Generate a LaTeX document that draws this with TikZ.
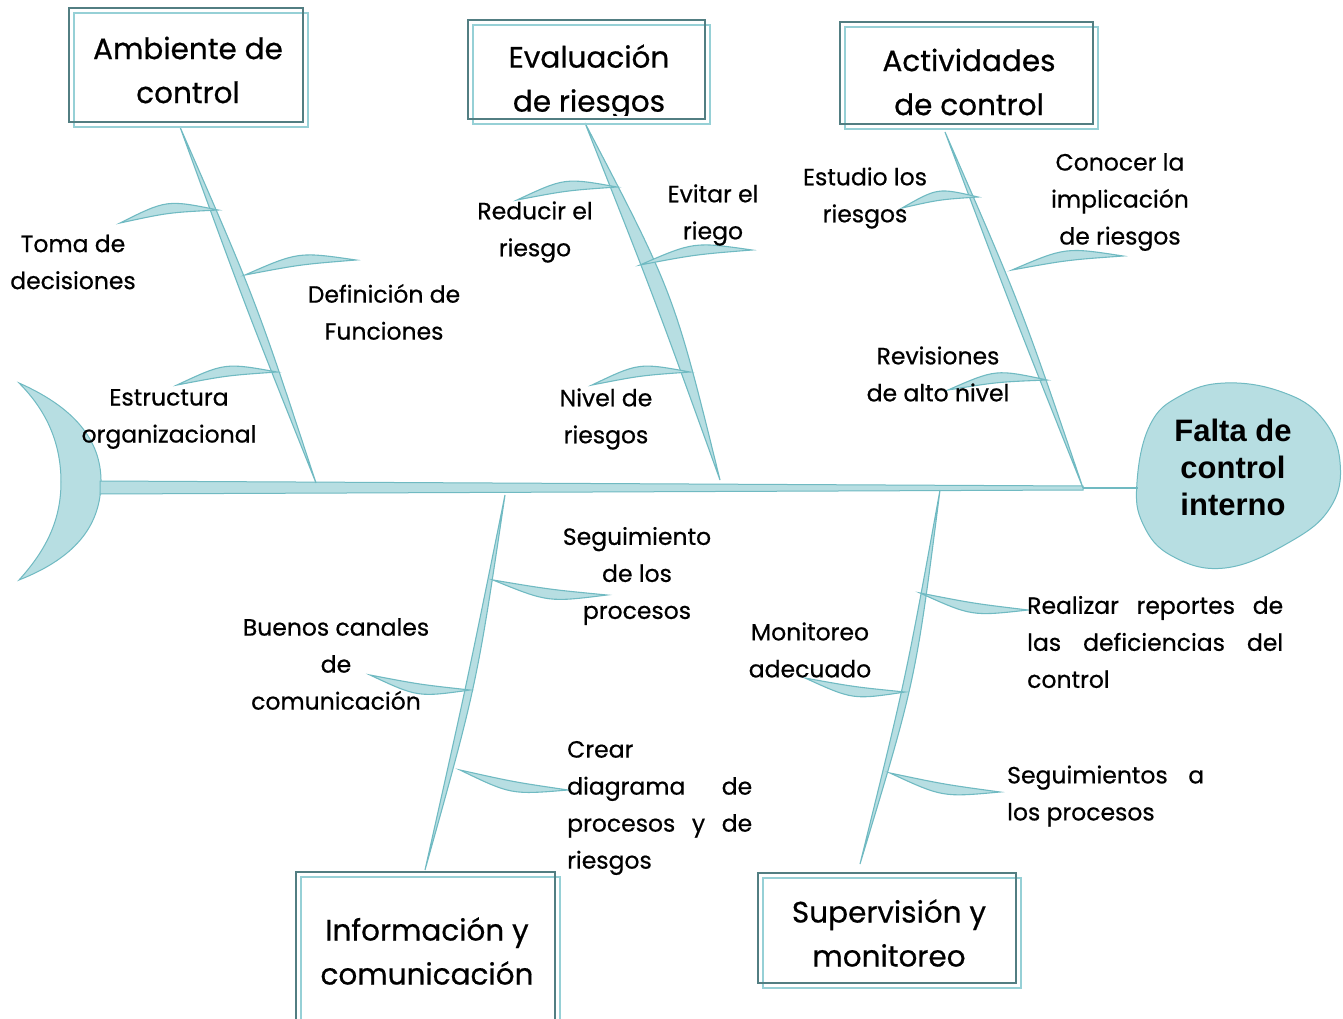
\documentclass[tikz,border=0pt]{standalone}
\usepackage{fontspec}
\setmainfont{Poppins}[FakeBold=0.6]
\newfontfamily\headfont{Liberation Sans}
\usetikzlibrary{calc}
\definecolor{bfill}{RGB}{183,222,226}
\definecolor{bedge}{RGB}{112,186,194}
\definecolor{bdark}{RGB}{82,126,130}
\definecolor{blight}{RGB}{150,208,214}
\newcommand\bonepath[4]{%
  \filldraw[fill=bfill, draw=bedge, line width=1.1pt] (#1) .. controls ($(#1)!0.5!(#2)!#3!90:(#2)$) .. (#2) .. controls ($(#1)!0.5!(#2)!#4!90:(#2)$) .. (#1) -- cycle;}
\newcommand\catbox[4]{%
  \fill[white] (#1,#2) rectangle (#3,#4);
  \draw[blight, line width=2.4pt] (#1+5,#2+5) rectangle (#3+5,#4+5);
  \draw[bdark, line width=2.4pt] (#1,#2) rectangle (#3,#4);}
\tikzset{
  lab/.style={font=\fontsize{23.5}{37}\selectfont, align=center, inner sep=0pt},
  labl/.style={font=\fontsize{23.5}{37}\selectfont, align=left, inner sep=0pt, anchor=west},
  boxtext/.style={font=\fontsize{29.5}{44}\selectfont, align=center, inner sep=0pt},
}
\begin{document}
\begin{tikzpicture}[x=1pt,y=-1pt]
\clip (0,0) rectangle (1343,1019);
\fill[white] (0,0) rectangle (1343,1019);

% ---------- coordinates of bones ----------
\coordinate (a1) at (180,127);  \coordinate (a2) at (316,483);
\coordinate (e1) at (585,123);  \coordinate (e2) at (720,480);
\coordinate (c1) at (945,132);  \coordinate (c2) at (1083,488);
\coordinate (i1) at (505,495);  \coordinate (i2) at (425,870);
\coordinate (s1) at (940,490);  \coordinate (s2) at (860,864);

% ---------- tail ----------
\filldraw[fill=bfill, draw=bedge, line width=1pt]
  (19,383) .. controls (80,410) and (102,445) .. (101,484)
  .. controls (100,522) and (80,556) .. (19,580)
  .. controls (48,548) and (61,518) .. (61,482)
  .. controls (61,445) and (48,412) .. (19,383) -- cycle;
\coordinate (tail) at (100,487);

% ---------- head ----------
\filldraw[fill=bfill, draw=bedge, line width=1pt]
  plot[smooth cycle, tension=0.7] coordinates {(1137,482) (1150,425) (1180,396) (1225,383) (1282,392) (1322,418) (1340,462) (1330,508) (1288,543) (1225,568) (1172,556) (1143,524)};
\coordinate (headL) at (1138,488);
\node[font=\headfont\bfseries\fontsize{31}{37}\selectfont, align=center, inner sep=0pt] (head) at (1233,467) {Falta de\\control\\interno};

% ---------- spine ----------
\filldraw[fill=bfill, draw=bedge, line width=1pt] (100,481) -- (1083,486) -- (1083,490) -- (100,494) -- cycle;
\draw[bedge, line width=2pt] (c2) -- (headL);

% ---------- main bones ----------
\bonepath{a1}{a2}{9pt}{-3pt}
\bonepath{e1}{e2}{23pt}{3pt}
\bonepath{c1}{c2}{8pt}{-2pt}
\bonepath{i1}{i2}{12pt}{2pt}
\bonepath{s1}{s2}{16pt}{6pt}

% ---------- sub bones ----------
\coordinate (ta) at (120,223); \coordinate (tb) at (218,210);
\bonepath{ta}{tb}{17pt}{4pt}
\coordinate (da) at (245,275); \coordinate (db) at (356,260);
\bonepath{da}{db}{16pt}{3pt}
\coordinate (ea) at (177,385); \coordinate (eb) at (277,372);
\bonepath{ea}{eb}{16pt}{3pt}
\coordinate (ra) at (517,200); \coordinate (rb) at (617,187);
\bonepath{ra}{rb}{16pt}{3pt}
\coordinate (va) at (640,265); \coordinate (vb) at (752,250);
\bonepath{va}{vb}{16pt}{3pt}
\coordinate (na) at (592,385); \coordinate (nb) at (690,372);
\bonepath{na}{nb}{16pt}{3pt}
\coordinate (sa) at (902,208); \coordinate (sb) at (978,197);
\bonepath{sa}{sb}{15pt}{3pt}
\coordinate (ka) at (1012,270); \coordinate (kb) at (1123,256);
\bonepath{ka}{kb}{16pt}{3pt}
\coordinate (va2) at (948,390); \coordinate (vb2) at (1047,380);
\bonepath{va2}{vb2}{16pt}{3pt}
\coordinate (ga) at (493,580); \coordinate (gb) at (607,595);
\bonepath{ga}{gb}{-2pt}{-15pt}
\coordinate (ba) at (370,675); \coordinate (bb) at (470,690);
\bonepath{ba}{bb}{-2pt}{-15pt}
\coordinate (cra) at (460,770); \coordinate (crb) at (568,790);
\bonepath{cra}{crb}{-2pt}{-15pt}
\coordinate (rea) at (920,593); \coordinate (reb) at (1028,610);
\bonepath{rea}{reb}{-2pt}{-15pt}
\coordinate (ma) at (805,678); \coordinate (mb) at (905,692);
\bonepath{ma}{mb}{-2pt}{-15pt}
\coordinate (sga) at (890,773); \coordinate (sgb) at (1000,792);
\bonepath{sga}{sgb}{-2pt}{-15pt}

% ---------- category boxes ----------
\catbox{69}{8}{303}{122}
\node[boxtext] (bA) at (188,70) {Ambiente de\\control};
\catbox{468}{20}{705}{119}
\begin{scope}
\clip (470,22) rectangle (703,116);
\node[boxtext] (bE) at (589,82) {Evaluación\\de riesgos};
\end{scope}
\catbox{840}{22}{1093}{124}
\node[boxtext] (bC) at (969,82) {Actividades\\de control};
\catbox{296}{872}{555}{1040}
\node[boxtext] (bI) at (427,951) {Información y\\comunicación};
\catbox{758}{873}{1016}{983}
\node[boxtext] (bS) at (889,933) {Supervisión y\\monitoreo};

% ---------- labels ----------
\node[lab] (t1) at (73,262) {Toma de\\decisiones};
\node[lab] (t2) at (384,312) {Definición de\\Funciones};
\node[lab] (t3) at (169,419) {Estructura\\organizacional};
\node[lab] (t4) at (535,232) {Reducir el\\riesgo};
\node[lab] (t5) at (713,215) {Evitar el\\riego};
\node[lab] (t6) at (606,419) {Nivel de\\riesgos};
\node[lab] (t7) at (865,198) {Estudio los\\riesgos};
\node[lab] (t8) at (1120,202) {Conocer la\\implicación\\de riesgos};
\node[lab] (t9) at (938,374) {Revisiones\\de alto nivel};
\node[lab] (t10) at (637,576) {Seguimiento\\de los\\procesos};
\node[lab] (t11) at (336,664) {Buenos canales\\de\\comunicación};
\node[lab] (t12) at (810,650) {Monitoreo\\adecuado};
\node[labl] (t13) at (567,808) {Crear\\\hbox to 185pt{diagrama\hfill de}\\\hbox to 185pt{procesos\hfill y\hfill de}\\riesgos};
\node[labl] (t14) at (1027,642) {\hbox to 256pt{Realizar\hfill reportes\hfill de}\\\hbox to 256pt{las\hfill deficiencias\hfill del}\\control};
\node[labl] (t15) at (1007,796) {\hbox to 197pt{Seguimientos\hfill a}\\los procesos};
\end{tikzpicture}
\end{document}
